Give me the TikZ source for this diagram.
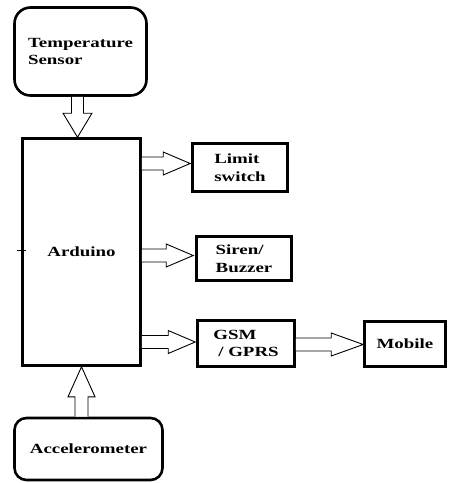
\documentclass[tikz,border=0pt]{standalone}
\usepackage{fontspec}
\newfontfamily\dfont{Liberation Serif}[FakeStretch=1.35]
\usetikzlibrary{calc}
\newcommand\barrow[5]{%
  \coordinate (bs) at #1; \coordinate (be) at #2;
  \coordinate (bh) at ($(be)!#5!(bs)$);
  \draw[arrowline] ($(bs)!#3!90:(be)$) -- ($(bh)!#3!-90:(bs)$) -- ($(bh)!#4!-90:(bs)$) -- (be)
     -- ($(bh)!#4!90:(bs)$) -- ($(bh)!#3!90:(bs)$) -- ($(bs)!#3!-90:(be)$);
}
\tikzset{
  box/.style={draw, line width=2.6pt, inner sep=0pt, align=left,
    font=\dfont\bfseries\fontsize{14}{17.5}\selectfont},
  rbox/.style={box, rounded corners=16pt},
  arrowline/.style={draw, line width=0.9pt, fill=white, line join=miter},
}
\begin{document}
\begin{tikzpicture}[x=1pt,y=-1pt]
\useasboundingbox (0,0) rectangle (449,483);
\node[rbox, minimum width=132pt, minimum height=88pt] (temp) at (80.5,51.5) {Temperature\\Sensor};
\node[box, minimum width=118pt, minimum height=227pt] (ard) at (81.5,252) {Arduino};
\node[box, minimum width=95pt, minimum height=48pt] (lim) at (240,167.5) {Limit\\switch};
\node[box, minimum width=95pt, minimum height=44pt] (sir) at (244,258.5) {Siren/\\Buzzer};
\node[box, minimum width=97pt, minimum height=46pt] (gsm) at (246,343.5) {GSM\\\hspace{5pt}/ GPRS};
\node[box, minimum width=81pt, minimum height=45pt] (mob) at (405,344) {Mobile};
\node[box, rounded corners=12pt, minimum width=148pt, minimum height=62pt] (acc) at (88.5,449) {Accelerometer};
% arrows
\barrow{([xshift=-3pt]temp.south)}{([xshift=-3pt]temp.south |- ard.north)}{6pt}{14.5pt}{24pt}
\barrow{([yshift=4pt]ard.east |- lim.west)}{([yshift=4pt,xshift=-1pt]lim.west)}{6.5pt}{11.5pt}{27pt}
\barrow{([yshift=3pt]ard.east |- sir.west)}{([yshift=3pt,xshift=-2pt]sir.west)}{6.5pt}{11.5pt}{27pt}
\barrow{([yshift=1.5pt]ard.east |- gsm.west)}{([yshift=1.5pt,xshift=-1pt]gsm.west)}{6.5pt}{11.5pt}{27pt}
\barrow{([yshift=-1pt]gsm.east)}{([yshift=-1pt]mob.west |- gsm.east)}{6.5pt}{11.5pt}{32pt}
\barrow{(acc.north -| ard.south)}{(ard.south)}{6.5pt}{13.5pt}{30pt}
\coordinate (tk) at ([xshift=-4pt,yshift=2pt]ard.west);
\draw[line width=0.9pt] (tk) -- ++(9pt,0);
\end{tikzpicture}
\end{document}
